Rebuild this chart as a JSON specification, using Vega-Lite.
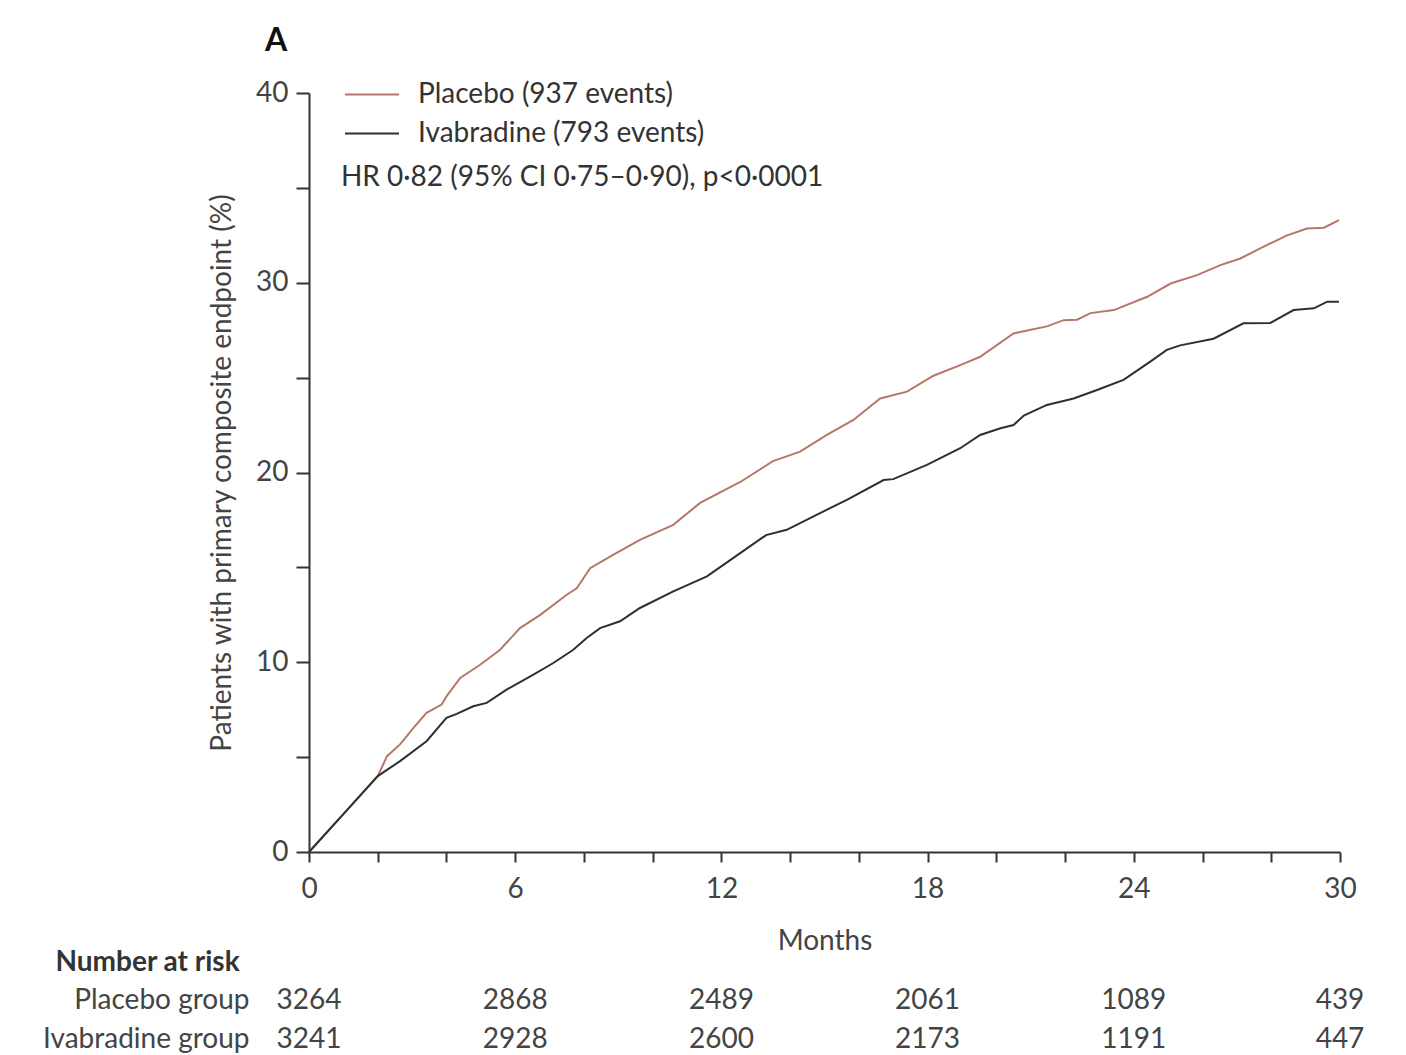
{
  "$schema": "https://vega.github.io/schema/vega-lite/v6.json",
  "background": "white",
  "autosize": {"type": "pad"},
  "padding": {"left": 42, "top": 25, "right": 10, "bottom": 0},
  "config": {
    "font": "Lato",
    "view": {"stroke": null},
    "axis": {
      "grid": false,
      "domainColor": "#333333",
      "tickColor": "#333333",
      "labelColor": "#444444",
      "titleColor": "#444444",
      "labelFontSize": 28,
      "titleFontSize": 28,
      "titleFontWeight": "normal",
      "domainWidth": 2,
      "tickWidth": 2
    }
  },
  "datasets": {
    "curves": [
      {"group": "Placebo", "month": 0, "pct": 0},
      {"group": "Placebo", "month": 0.5, "pct": 1.0},
      {"group": "Placebo", "month": 1.0, "pct": 2.0},
      {"group": "Placebo", "month": 1.5, "pct": 3.0},
      {"group": "Placebo", "month": 2.0, "pct": 4.0},
      {"group": "Placebo", "month": 2.27, "pct": 5.05},
      {"group": "Placebo", "month": 2.65, "pct": 5.67},
      {"group": "Placebo", "month": 3.04, "pct": 6.54},
      {"group": "Placebo", "month": 3.42, "pct": 7.33},
      {"group": "Placebo", "month": 3.86, "pct": 7.77},
      {"group": "Placebo", "month": 4.0, "pct": 8.2},
      {"group": "Placebo", "month": 4.4, "pct": 9.17},
      {"group": "Placebo", "month": 4.98, "pct": 9.87},
      {"group": "Placebo", "month": 5.56, "pct": 10.66},
      {"group": "Placebo", "month": 6.14, "pct": 11.8},
      {"group": "Placebo", "month": 6.73, "pct": 12.5},
      {"group": "Placebo", "month": 7.5, "pct": 13.56},
      {"group": "Placebo", "month": 7.79, "pct": 13.9},
      {"group": "Placebo", "month": 8.18, "pct": 14.96},
      {"group": "Placebo", "month": 8.86, "pct": 15.67},
      {"group": "Placebo", "month": 9.63, "pct": 16.45},
      {"group": "Placebo", "month": 10.6, "pct": 17.24},
      {"group": "Placebo", "month": 11.38, "pct": 18.4},
      {"group": "Placebo", "month": 12.55, "pct": 19.5},
      {"group": "Placebo", "month": 13.5, "pct": 20.6},
      {"group": "Placebo", "month": 14.29, "pct": 21.1},
      {"group": "Placebo", "month": 15.07, "pct": 21.98},
      {"group": "Placebo", "month": 15.84, "pct": 22.77},
      {"group": "Placebo", "month": 16.62, "pct": 23.9},
      {"group": "Placebo", "month": 17.4, "pct": 24.26},
      {"group": "Placebo", "month": 18.17, "pct": 25.1},
      {"group": "Placebo", "month": 18.95, "pct": 25.66},
      {"group": "Placebo", "month": 19.53, "pct": 26.1},
      {"group": "Placebo", "month": 20.5, "pct": 27.33},
      {"group": "Placebo", "month": 21.47, "pct": 27.7},
      {"group": "Placebo", "month": 21.96, "pct": 28.03},
      {"group": "Placebo", "month": 22.35, "pct": 28.05},
      {"group": "Placebo", "month": 22.74, "pct": 28.4},
      {"group": "Placebo", "month": 23.42, "pct": 28.56},
      {"group": "Placebo", "month": 24.39, "pct": 29.26},
      {"group": "Placebo", "month": 25.07, "pct": 29.96},
      {"group": "Placebo", "month": 25.84, "pct": 30.4},
      {"group": "Placebo", "month": 26.52, "pct": 30.93},
      {"group": "Placebo", "month": 27.1, "pct": 31.28},
      {"group": "Placebo", "month": 27.78, "pct": 31.9},
      {"group": "Placebo", "month": 28.46, "pct": 32.5},
      {"group": "Placebo", "month": 29.04, "pct": 32.86},
      {"group": "Placebo", "month": 29.53, "pct": 32.9},
      {"group": "Placebo", "month": 29.97, "pct": 33.3},
      {"group": "Ivabradine", "month": 0, "pct": 0},
      {"group": "Ivabradine", "month": 1.0, "pct": 2.0},
      {"group": "Ivabradine", "month": 2.0, "pct": 4.0},
      {"group": "Ivabradine", "month": 2.65, "pct": 4.79},
      {"group": "Ivabradine", "month": 3.42, "pct": 5.84},
      {"group": "Ivabradine", "month": 4.0, "pct": 7.07},
      {"group": "Ivabradine", "month": 4.3, "pct": 7.28},
      {"group": "Ivabradine", "month": 4.78, "pct": 7.68},
      {"group": "Ivabradine", "month": 5.17, "pct": 7.86},
      {"group": "Ivabradine", "month": 5.75, "pct": 8.56},
      {"group": "Ivabradine", "month": 6.53, "pct": 9.35},
      {"group": "Ivabradine", "month": 7.11, "pct": 9.96},
      {"group": "Ivabradine", "month": 7.69, "pct": 10.66},
      {"group": "Ivabradine", "month": 8.08, "pct": 11.28},
      {"group": "Ivabradine", "month": 8.47, "pct": 11.8},
      {"group": "Ivabradine", "month": 9.05, "pct": 12.16},
      {"group": "Ivabradine", "month": 9.63, "pct": 12.86},
      {"group": "Ivabradine", "month": 10.6, "pct": 13.74},
      {"group": "Ivabradine", "month": 11.58, "pct": 14.53},
      {"group": "Ivabradine", "month": 12.35, "pct": 15.5},
      {"group": "Ivabradine", "month": 13.3, "pct": 16.7},
      {"group": "Ivabradine", "month": 13.9, "pct": 16.98},
      {"group": "Ivabradine", "month": 14.87, "pct": 17.86},
      {"group": "Ivabradine", "month": 15.65, "pct": 18.56},
      {"group": "Ivabradine", "month": 16.72, "pct": 19.6},
      {"group": "Ivabradine", "month": 17.0, "pct": 19.65},
      {"group": "Ivabradine", "month": 17.98, "pct": 20.4},
      {"group": "Ivabradine", "month": 18.95, "pct": 21.28},
      {"group": "Ivabradine", "month": 19.53, "pct": 21.98},
      {"group": "Ivabradine", "month": 20.12, "pct": 22.33},
      {"group": "Ivabradine", "month": 20.5, "pct": 22.5},
      {"group": "Ivabradine", "month": 20.8, "pct": 23.0},
      {"group": "Ivabradine", "month": 21.47, "pct": 23.56},
      {"group": "Ivabradine", "month": 22.25, "pct": 23.9},
      {"group": "Ivabradine", "month": 22.93, "pct": 24.35},
      {"group": "Ivabradine", "month": 23.7, "pct": 24.88},
      {"group": "Ivabradine", "month": 24.48, "pct": 25.84},
      {"group": "Ivabradine", "month": 24.96, "pct": 26.46},
      {"group": "Ivabradine", "month": 25.35, "pct": 26.7},
      {"group": "Ivabradine", "month": 26.32, "pct": 27.05},
      {"group": "Ivabradine", "month": 27.19, "pct": 27.86},
      {"group": "Ivabradine", "month": 27.97, "pct": 27.88},
      {"group": "Ivabradine", "month": 28.65, "pct": 28.56},
      {"group": "Ivabradine", "month": 29.24, "pct": 28.65},
      {"group": "Ivabradine", "month": 29.63, "pct": 29.0},
      {"group": "Ivabradine", "month": 29.97, "pct": 29.0}
    ],
    "risk": [
      {"group": "Placebo group", "month": 0, "n": 3264},
      {"group": "Placebo group", "month": 6, "n": 2868},
      {"group": "Placebo group", "month": 12, "n": 2489},
      {"group": "Placebo group", "month": 18, "n": 2061},
      {"group": "Placebo group", "month": 24, "n": 1089},
      {"group": "Placebo group", "month": 30, "n": 439},
      {"group": "Ivabradine group", "month": 0, "n": 3241},
      {"group": "Ivabradine group", "month": 6, "n": 2928},
      {"group": "Ivabradine group", "month": 12, "n": 2600},
      {"group": "Ivabradine group", "month": 18, "n": 2173},
      {"group": "Ivabradine group", "month": 24, "n": 1191},
      {"group": "Ivabradine group", "month": 30, "n": 447}
    ]
  },
  "bounds": "flush",
  "spacing": 129,
  "vconcat": [
    {
      "width": 1031,
      "height": 759,
      "title": {
        "text": "A",
        "anchor": "start",
        "frame": "group",
        "baseline": "alphabetic",
        "dx": -44,
        "offset": -4,
        "fontSize": 32,
        "fontWeight": "bold",
        "color": "#111111"
      },
      "layer": [
        {
          "data": {"name": "curves"},
          "mark": {"type": "line", "strokeWidth": 2},
          "encoding": {
            "x": {
              "field": "month",
              "type": "quantitative",
              "scale": {"domain": [0, 30], "nice": false},
              "axis": {
                "values": [0, 1, 2, 3, 4, 5, 6, 7, 8, 9, 10, 11, 12, 13, 14, 15, 16, 17, 18, 19, 20, 21, 22, 23, 24, 25, 26, 27, 28, 29, 30],
                "labelExpr": "datum.value % 6 == 0 ? datum.label : ''",
                "labelFlush": false,
                "labelOverlap": false,
                "tickSize": 10,
                "labelPadding": 13,
                "title": "Months",
                "titlePadding": 24
              }
            },
            "y": {
              "field": "pct",
              "type": "quantitative",
              "scale": {"domain": [0, 40], "nice": false},
              "axis": {
                "values": [0, 5, 10, 15, 20, 25, 30, 35, 40],
                "labelExpr": "datum.value % 10 == 0 ? datum.label : ''",
                "labelOverlap": false,
                "tickSize": 13,
                "labelPadding": 8,
                "title": "Patients with primary composite endpoint (%)",
                "titlePadding": 19
              }
            },
            "color": {
              "field": "group",
              "type": "nominal",
              "scale": {"domain": ["Placebo", "Ivabradine"], "range": ["#b57868", "#2b3131"]},
              "legend": {
                "orient": "none",
                "legendX": 35,
                "legendY": -18,
                "title": null,
                "symbolType": "stroke",
                "symbolSize": 2916,
                "symbolStrokeWidth": 2,
                "labelFontSize": 28,
                "labelOffset": 18,
                "labelLimit": 0,
                "labelColor": "#333333",
                "clipHeight": 39,
                "rowPadding": 0,
                "labelExpr": "datum.label == 'Placebo' ? 'Placebo (937 events)' : 'Ivabradine (793 events)'"
              }
            }
          }
        },
        {
          "data": {"values": [{"note": "HR 0·82 (95% CI 0·75–0·90), p<0·0001"}]},
          "mark": {"type": "text", "align": "left", "baseline": "middle", "fontSize": 28, "color": "#333333"},
          "encoding": {
            "x": {"datum": 0.93, "type": "quantitative"},
            "y": {"datum": 35.5, "type": "quantitative"},
            "text": {"field": "note"}
          }
        }
      ]
    },
    {
      "width": 1031,
      "height": 78,
      "data": {"name": "risk"},
      "mark": {"type": "text", "fontSize": 28, "color": "#444444"},
      "encoding": {
        "x": {
          "field": "month",
          "type": "quantitative",
          "scale": {"domain": [0, 30], "nice": false},
          "axis": null
        },
        "y": {
          "field": "group",
          "type": "nominal",
          "sort": ["Placebo group", "Ivabradine group"],
          "scale": {"paddingInner": 0, "paddingOuter": 0},
          "axis": {
            "domain": false,
            "ticks": false,
            "labelPadding": 60,
            "labelLimit": 0,
            "labelColor": "#444444",
            "title": "Number at risk",
            "titleAngle": 0,
            "titleAlign": "left",
            "titleBaseline": "middle",
            "titleX": -254,
            "titleY": -19,
            "titleFontWeight": "bold",
            "titleColor": "#333333"
          }
        },
        "text": {"field": "n", "type": "quantitative", "format": "d"}
      }
    }
  ]
}
